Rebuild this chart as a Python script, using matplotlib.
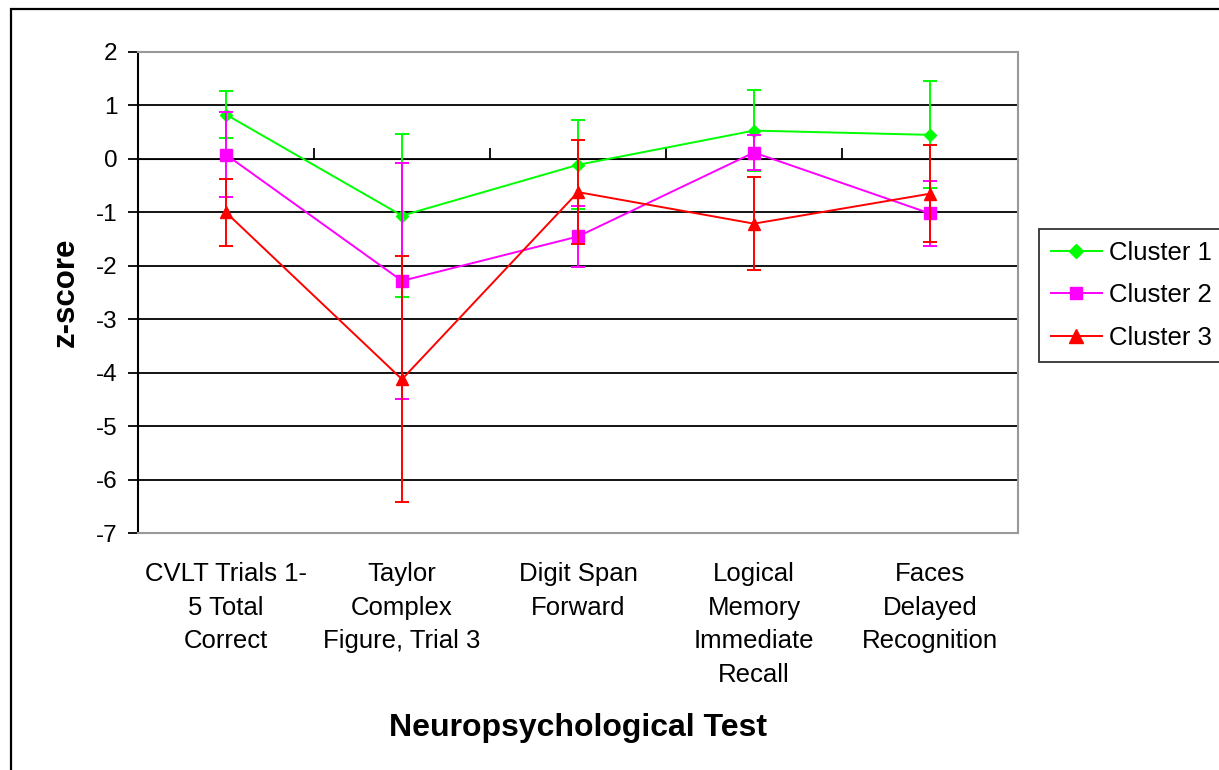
import matplotlib
matplotlib.use('Agg')
import matplotlib.pyplot as plt
from matplotlib.patches import Rectangle
import numpy as np

# Data
tests = ['CVLT Trials 1-\n5 Total\nCorrect',
         'Taylor\nComplex\nFigure, Trial 3',
         'Digit Span\nForward',
         'Logical\nMemory\nImmediate\nRecall',
         'Faces\nDelayed\nRecognition']
cluster1 = [0.83, -1.06, -0.11, 0.53, 0.45]
cluster1_err = [0.44, 1.53, 0.83, 0.75, 1.0]
cluster2 = [0.08, -2.28, -1.45, 0.12, -1.02]
cluster2_err = [0.80, 2.2, 0.57, 0.32, 0.6]
cluster3 = [-1.0, -4.12, -0.62, -1.21, -0.65]
cluster3_err = [0.62, 2.3, 0.97, 0.87, 0.91]
yticks = [2, 1, 0, -1, -2, -3, -4, -5, -6, -7]

plt.rcParams['font.family'] = ['Liberation Sans', 'DejaVu Sans']

fig = plt.figure(figsize=(12.19, 7.70), dpi=100)
ax = fig.add_axes([0.1132, 0.3074, 0.7219, 0.6251])

x = np.arange(len(tests))

# horizontal gridlines (black, Excel style)
for yv in yticks[1:-1]:
    ax.axhline(yv, color='black', lw=1.3, zorder=1)

series = [
    ('Cluster 1', cluster1, cluster1_err, '#00ff00', 'D', 6.5),
    ('Cluster 2', cluster2, cluster2_err, '#ff00ff', 's', 8),
    ('Cluster 3', cluster3, cluster3_err, '#ff0000', '^', 9.3),
]
handles = []
for i, (name, vals, err, col, mk, ms) in enumerate(series):
    eb = ax.errorbar(x, vals, yerr=err, color=col, lw=1.4, marker=mk, markersize=ms,
                     markeredgecolor=col, markerfacecolor=col, elinewidth=1.4,
                     capsize=5, capthick=1.4, zorder=3 + i)
    eb[0].set_label(name)
    handles.append(eb[0])

ax.set_xlim(-0.5, len(tests) - 0.5)
ax.set_ylim(-7, 2)
ax.set_yticks(yticks)
ax.set_yticklabels([str(v) for v in yticks], fontsize=17.5)
ax.tick_params(axis='y', direction='out', length=7, width=1.3, pad=8)
ax.set_xticks(x)
ax.set_xticklabels(tests, fontsize=18.5, linespacing=1.5)
ax.tick_params(axis='x', length=0, pad=21)

for side in ['top', 'right', 'bottom']:
    ax.spines[side].set_color('#999999')
    ax.spines[side].set_linewidth(1.5)
ax.spines['left'].set_color('black')
ax.spines['left'].set_linewidth(1.5)

# category axis crossing at zero, tick marks between categories
zero_ax = ax.secondary_xaxis(7 / 9)
zero_ax.set_xticks(np.arange(-0.5, len(tests), 1.0))
zero_ax.set_xticklabels([])
zero_ax.tick_params(direction='out', length=8, width=1.3, color='black')
zero_ax.spines['bottom'].set_color('black')
zero_ax.spines['bottom'].set_linewidth(1.3)

ax.set_xlabel('Neuropsychological Test', fontsize=23, fontweight='bold', labelpad=19)
ax.set_ylabel('z-score', fontsize=22.5, fontweight='bold', labelpad=11)

leg = fig.legend(handles=handles, labels=[s[0] for s in series], loc='upper left',
                 bbox_to_anchor=(1039 / 1219, 1 - 229 / 770),
                 fontsize=18.5, frameon=True, fancybox=False, edgecolor='black',
                 handlelength=2.0, handletextpad=0.28, borderpad=0.45, labelspacing=0.73,
                 borderaxespad=0, markerscale=1.15)
leg.get_frame().set_linewidth(1.3)

# outer chart border
fig.patches.append(Rectangle((11 / 1219, -0.2), 2.0, 1.2 - 9 / 770,
                             transform=fig.transFigure, fill=False,
                             edgecolor='black', lw=1.6))

fig.savefig('out.png', dpi=100)
